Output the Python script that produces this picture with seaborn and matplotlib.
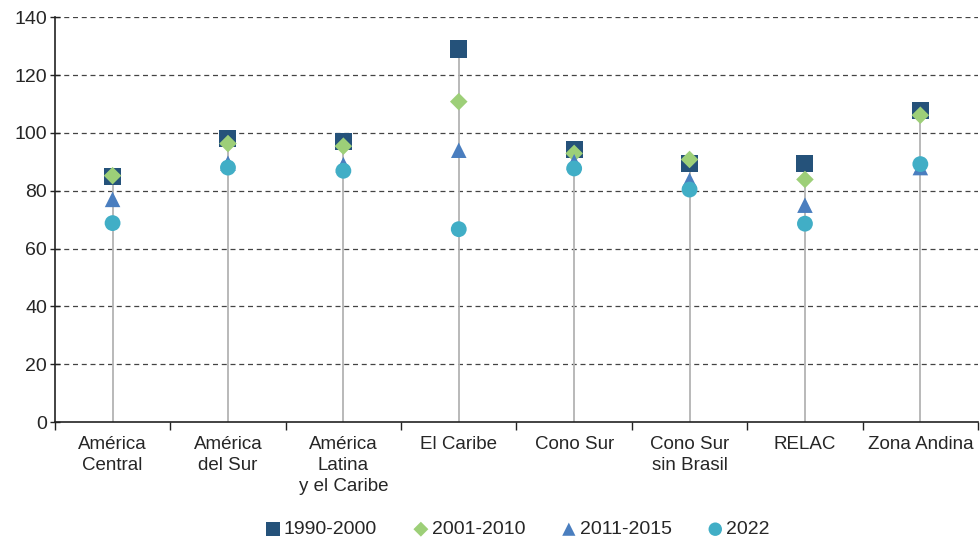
import matplotlib
matplotlib.use("Agg")
import matplotlib.pyplot as plt
from matplotlib.ticker import FixedLocator, NullFormatter
import seaborn as sns
import pandas as pd
import numpy as np

categories = ["América\nCentral", "América\ndel Sur", "América\nLatina\ny el Caribe",
              "El Caribe", "Cono Sur", "Cono Sur\nsin Brasil", "RELAC", "Zona Andina"]
s1990 = [85.0, 98.2, 97.1, 129.0, 94.4, 89.5, 89.5, 107.8]
s2001 = [85.2, 96.3, 95.4, 110.8, 92.9, 90.8, 83.9, 106.1]
s2011 = [77.0, 89.5, 89.0, 94.0, 90.0, 83.6, 75.0, 88.0]
s2022 = [68.8, 88.0, 86.9, 66.7, 87.7, 80.4, 68.6, 89.2]
series_names = ["1990-2000", "2001-2010", "2011-2015", "2022"]
y_ticks = [0, 20, 40, 60, 80, 100, 120, 140]

series_vals = [s1990, s2001, s2011, s2022]
colors = ["#25527A", "#9DCF78", "#4A7EBF", "#41AEC6"]
markers = ["s", "D", "^", "o"]
sizes = [150, 80, 125, 130]

sns.set_theme(style="white")
plt.rcParams['font.family'] = ['Liberation Sans', 'DejaVu Sans']

fig = plt.figure(figsize=(9.8, 5.37), dpi=100)
ax = fig.add_axes([0.056, 0.214, 0.942, 0.754])

pos = np.arange(len(categories))
rows = []
for name, vals in zip(series_names, series_vals):
    for p, v in zip(pos, vals):
        rows.append({"x": p, "value": v, "serie": name})
df = pd.DataFrame(rows)

# stems
tops = df.groupby("x")["value"].max()
ax.vlines(tops.index, 0, tops.values, color="#b3b3b3", lw=1.3, zorder=1)

for i, (name, c, m, s) in enumerate(zip(series_names, colors, markers, sizes)):
    sub = df[df["serie"] == name]
    sns.scatterplot(data=sub, x="x", y="value", ax=ax, color=c, marker=m, s=s,
                    edgecolor="none", linewidth=0, label=name, zorder=3 + i)

txt = "#262626"
ax.set_xlim(-0.5, len(categories) - 0.5)
ax.set_ylim(0, 140)
ax.set_yticks(y_ticks)
ax.set_yticklabels([str(t) for t in y_ticks])
ax.set_xticks(pos)
ax.set_xticklabels(categories, va="top", linespacing=1.3)
ax.xaxis.set_minor_locator(FixedLocator(np.arange(-0.5, len(categories), 1.0)))
ax.xaxis.set_minor_formatter(NullFormatter())
ax.tick_params(axis="x", which="major", length=0, pad=10, labelsize=13.5, colors=txt)
ax.tick_params(axis="x", which="minor", length=6, width=1, color="#222222", bottom=True)
ax.tick_params(axis="y", which="major", length=7, width=1, color="#222222", left=True,
               direction="inout", labelsize=14, labelcolor=txt, pad=2)

ax.grid(False)
for t in y_ticks[1:]:
    ax.axhline(t, color="#444444", lw=0.9, ls=(0, (4, 3)), zorder=0)

for sp in ["top", "right"]:
    ax.spines[sp].set_visible(False)
for sp in ["left", "bottom"]:
    ax.spines[sp].set_color("#222222")
    ax.spines[sp].set_linewidth(1.2)
ax.set_xlabel("")
ax.set_ylabel("")

if ax.legend_:
    ax.legend_.remove()
handles, labels = ax.get_legend_handles_labels()
leg = fig.legend(handles, labels, loc="lower center", bbox_to_anchor=(0.527, -0.035), ncol=4,
                 frameon=False, fontsize=14, handletextpad=0.05, columnspacing=1.75,
                 handlelength=1.0, markerscale=0.85)
for t in leg.get_texts():
    t.set_color(txt)

fig.savefig("out.png", dpi=100)
